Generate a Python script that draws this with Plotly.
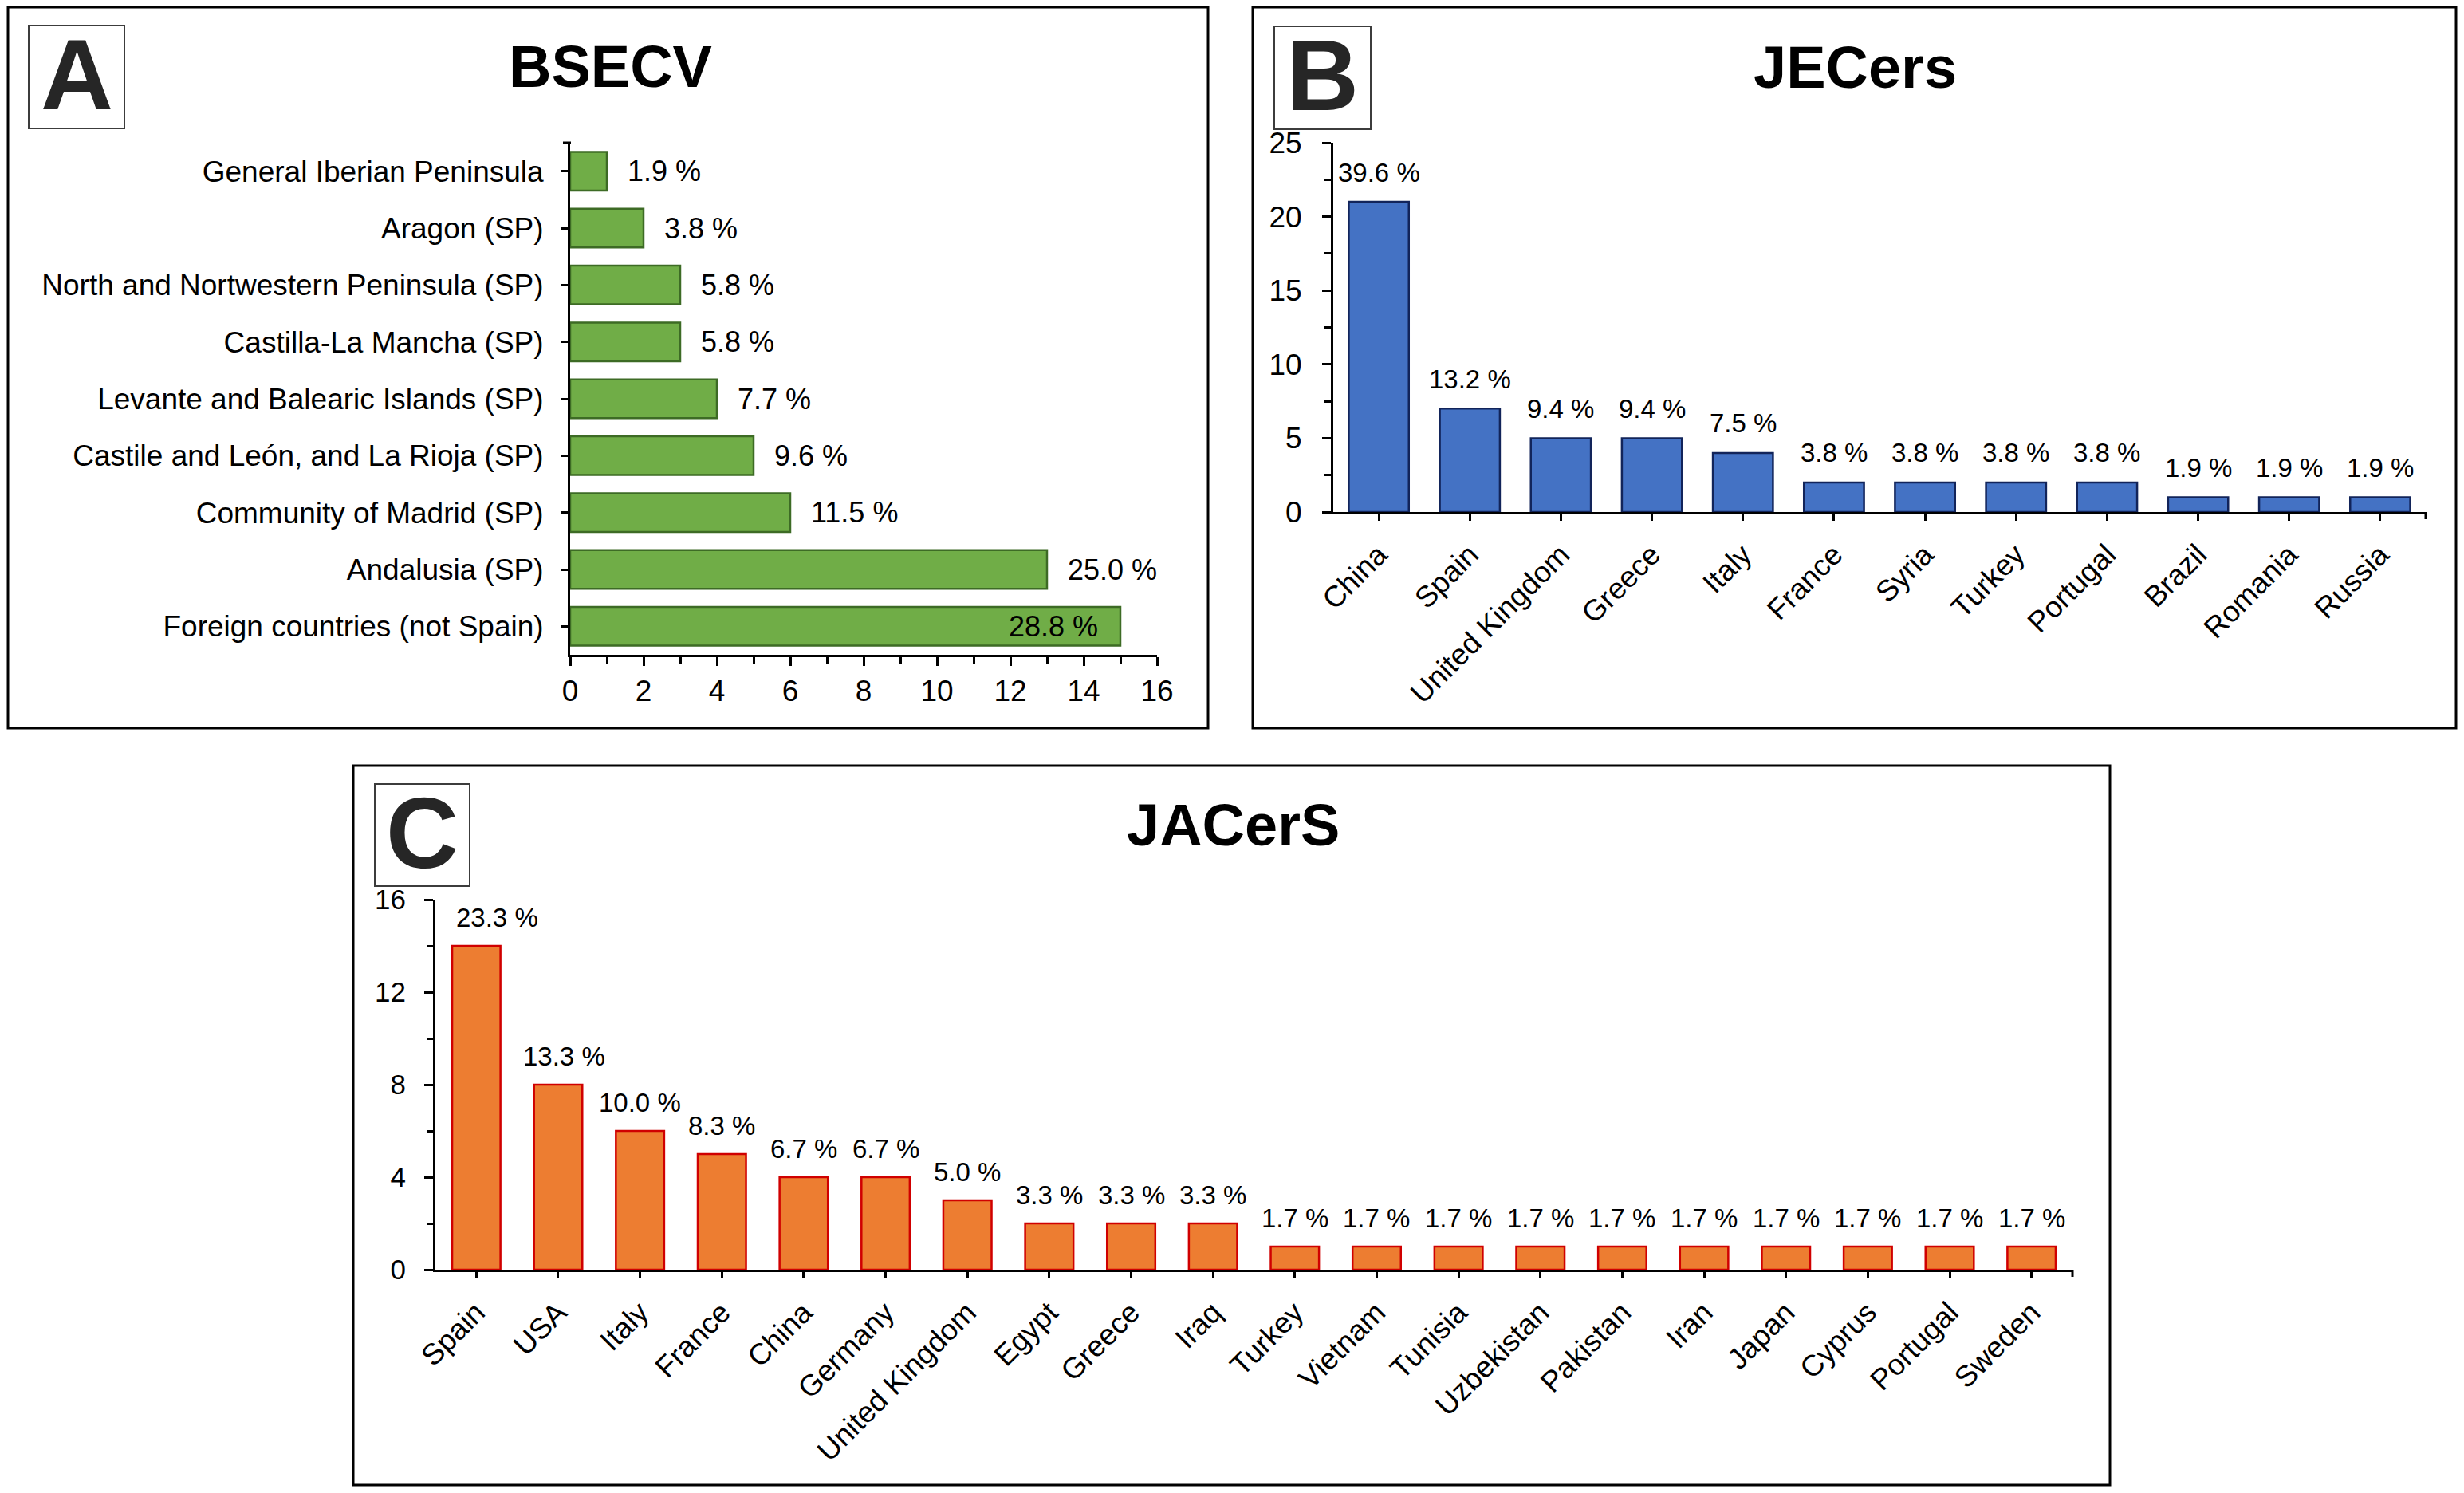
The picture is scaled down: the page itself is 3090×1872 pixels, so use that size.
import plotly.graph_objects as go

W, H = 3090, 1872
FONT = "Liberation Sans, Arial, sans-serif"

# ---------------- data ----------------
a_regions = ["Foreign countries (not Spain)", "Andalusia (SP)", "Community of Madrid (SP)",
             "Castile and León, and La Rioja (SP)", "Levante and Balearic Islands (SP)",
             "Castilla-La Mancha (SP)", "North and Nortwestern Peninsula (SP)",
             "Aragon (SP)", "General Iberian Peninsula"]
a_counts = [15, 13, 6, 5, 4, 3, 3, 2, 1]
a_pct = ["28.8 %", "25.0 %", "11.5 %", "9.6 %", "7.7 %", "5.8 %", "5.8 %", "3.8 %", "1.9 %"]
a_ticks = [0, 2, 4, 6, 8, 10, 12, 14, 16]

b_countries = ["China", "Spain", "United Kingdom", "Greece", "Italy", "France", "Syria",
               "Turkey", "Portugal", "Brazil", "Romania", "Russia"]
b_counts = [21, 7, 5, 5, 4, 2, 2, 2, 2, 1, 1, 1]
b_pct = ["39.6 %", "13.2 %", "9.4 %", "9.4 %", "7.5 %", "3.8 %", "3.8 %", "3.8 %", "3.8 %",
         "1.9 %", "1.9 %", "1.9 %"]
b_ticks = [0, 5, 10, 15, 20, 25]

c_countries = ["Spain", "USA", "Italy", "France", "China", "Germany", "United Kingdom", "Egypt",
               "Greece", "Iraq", "Turkey", "Vietnam", "Tunisia", "Uzbekistan", "Pakistan", "Iran",
               "Japan", "Cyprus", "Portugal", "Sweden"]
c_counts = [14, 8, 6, 5, 4, 4, 3, 2, 2, 2, 1, 1, 1, 1, 1, 1, 1, 1, 1, 1]
c_pct = ["23.3 %", "13.3 %", "10.0 %", "8.3 %", "6.7 %", "6.7 %", "5.0 %", "3.3 %", "3.3 %",
         "3.3 %", "1.7 %", "1.7 %", "1.7 %", "1.7 %", "1.7 %", "1.7 %", "1.7 %", "1.7 %",
         "1.7 %", "1.7 %"]
c_ticks = [0, 4, 8, 12, 16]

titles = ["BSECV", "JECers", "JACerS"]
panel_letters = ["A", "B", "C"]

OFF = 8  # page body margin


def px(x):
    return (x - OFF) / W


def py(y):
    return 1 - (y - OFF) / H


fig = go.Figure()

fig.add_trace(go.Bar(
    x=a_counts, y=a_regions, orientation="h", xaxis="x", yaxis="y", width=0.68,
    marker=dict(color="#70AD47", line=dict(color="#3D6B25", width=2.5)),
    hoverinfo="skip", showlegend=False,
))
fig.add_trace(go.Bar(
    x=b_countries, y=b_counts, xaxis="x2", yaxis="y2", width=0.66,
    marker=dict(color="#4472C4", line=dict(color="#12245A", width=2.5)),
    hoverinfo="skip", showlegend=False,
))
fig.add_trace(go.Bar(
    x=c_countries, y=c_counts, xaxis="x3", yaxis="y3", width=0.59,
    marker=dict(color="#ED7D31", line=dict(color="#D00000", width=2.5)),
    hoverinfo="skip", showlegend=False,
))

axis_common = dict(showline=True, linecolor="black", linewidth=3, ticks="outside",
                   tickcolor="black", tickwidth=3, showgrid=False, zeroline=False,
                   fixedrange=True, automargin=False)
tickfont = dict(family=FONT, size=37, color="black")

fig.update_layout(
    width=W, height=H, autosize=False,
    margin=dict(l=0, r=0, t=0, b=0, pad=0, autoexpand=False),
    paper_bgcolor="white", plot_bgcolor="white",
    showlegend=False,
    xaxis=dict(domain=[px(715), px(1451)], anchor="y", range=[0, 16], tickvals=a_ticks,
               ticklen=11, tickfont=tickfont, ticklabelstandoff=0,
               minor=dict(dtick=1, tick0=0, ticklen=8, tickwidth=3, ticks="outside",
                          tickcolor="black"),
               **axis_common),
    yaxis=dict(domain=[py(821), py(179)], anchor="x", type="category",
               range=[-0.5, 8.5], ticklen=9, tickfont=tickfont, ticklabelstandoff=14,
               **axis_common),
    xaxis2=dict(domain=[px(1672), px(3042)], anchor="y2", type="category",
                range=[-0.5, 11.5], ticklen=8, tickangle=-45, tickfont=tickfont,
                ticklabelstandoff=6, **axis_common),
    yaxis2=dict(domain=[py(642), py(179)], anchor="x2", range=[0, 25], tickvals=b_ticks,
                ticklen=11, tickfont=tickfont, ticklabelstandoff=18,
                minor=dict(dtick=2.5, tick0=0, ticklen=8, tickwidth=3, ticks="outside",
                           tickcolor="black"),
                **axis_common),
    xaxis3=dict(domain=[px(546), px(2599)], anchor="y3", type="category",
                range=[-0.5, 19.5], ticklen=8, tickangle=-45, tickfont=tickfont,
                ticklabelstandoff=6, **axis_common),
    yaxis3=dict(domain=[py(1592), py(1128)], anchor="x3", range=[0, 16], tickvals=c_ticks,
                ticklen=11, tickfont=dict(family=FONT, size=35, color="black"),
                ticklabelstandoff=16,
                minor=dict(dtick=2, tick0=0, ticklen=8, tickwidth=3, ticks="outside",
                           tickcolor="black"),
                **axis_common),
)

annotations = []
for i, (v, cat, t) in enumerate(zip(a_counts, a_regions, a_pct)):
    inside = (i == 0)
    annotations.append(dict(
        x=v, y=cat, xref="x", yref="y", text=t, showarrow=False,
        xanchor="right" if inside else "left", yanchor="middle",
        xshift=-26 if inside else 24,
        font=dict(family=FONT, size=36, color="black")))
for v, cat, t in zip(b_counts, b_countries, b_pct):
    annotations.append(dict(
        x=cat, y=v, xref="x2", yref="y2", text=t, showarrow=False,
        xanchor="center", yanchor="middle", yshift=37,
        font=dict(family=FONT, size=33, color="black")))
for i, (v, cat, t) in enumerate(zip(c_counts, c_countries, c_pct)):
    annotations.append(dict(
        x=cat, y=v, xref="x3", yref="y3", text=t, showarrow=False,
        xanchor="center", yanchor="middle", yshift=36,
        xshift=26 if i == 0 else (8 if i == 1 else 0),
        font=dict(family=FONT, size=33, color="black")))

title_pos = [(765, 84), (2326, 85), (1546, 1034)]
for t, (tx, ty) in zip(titles, title_pos):
    annotations.append(dict(
        x=px(tx), y=py(ty), xref="paper", yref="paper", text="<b>%s</b>" % t,
        showarrow=False, xanchor="center", yanchor="middle",
        font=dict(family=FONT, size=74, color="black")))

letter_boxes = [(36, 32, 156, 161), (1598, 33, 1719, 162), (470, 983, 589, 1111)]
shapes = []
for L, (x0, y0, x1, y1) in zip(panel_letters, letter_boxes):
    shapes.append(dict(type="rect", xref="paper", yref="paper",
                       x0=px(x0), x1=px(x1), y0=py(y1), y1=py(y0),
                       line=dict(color="#3C3C3C", width=2), fillcolor="rgba(0,0,0,0)"))
    annotations.append(dict(
        x=px((x0 + x1) / 2), y=py((y0 + y1) / 2 - 3), xref="paper", yref="paper",
        text="<b>%s</b>" % L, showarrow=False, xanchor="center", yanchor="middle",
        height=110, valign="middle",
        font=dict(family=FONT, size=126, color="#262626")))

frames = [(10, 9, 1515, 913), (1571, 9, 3080, 913), (443, 960, 2646, 1862)]
for (x0, y0, x1, y1) in frames:
    shapes.append(dict(type="rect", xref="paper", yref="paper",
                       x0=px(x0), x1=px(x1), y0=py(y1), y1=py(y0),
                       line=dict(color="black", width=3), fillcolor="rgba(0,0,0,0)"))

shapes.append(dict(type="line", xref="paper", yref="paper", x0=px(706), x1=px(716),
                   y0=py(179), y1=py(179), line=dict(color="black", width=3)))
shapes.append(dict(type="line", xref="paper", yref="paper", x0=px(3042), x1=px(3042),
                   y0=py(642), y1=py(651), line=dict(color="black", width=3)))
shapes.append(dict(type="line", xref="paper", yref="paper", x0=px(2599), x1=px(2599),
                   y0=py(1592), y1=py(1601), line=dict(color="black", width=3)))

fig.update_layout(annotations=annotations, shapes=shapes)

fig.write_html("out.html")
